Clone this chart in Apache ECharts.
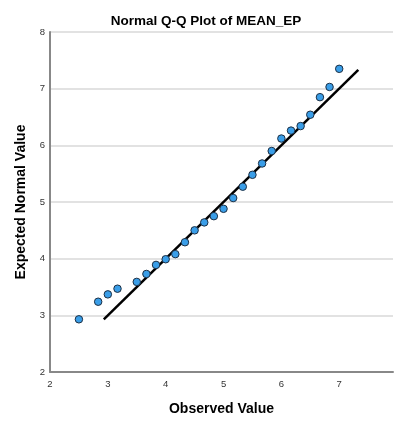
<!DOCTYPE html>
<html>
<head>
<meta charset="utf-8">
<script src="https://cdn.jsdelivr.net/npm/echarts@6/dist/echarts.min.js"></script>
<style>html,body{margin:0;padding:0;background:#fff}#c{width:394px;height:421px}</style>
</head>
<body>
<div id="c"></div>
<script>
var observed = [2.5, 2.833, 3.0, 3.167, 3.5, 3.667, 3.833, 4.0, 4.167, 4.333, 4.5, 4.667, 4.833, 5.0, 5.167, 5.333, 5.5, 5.667, 5.833, 6.0, 6.167, 6.333, 6.5, 6.667, 6.833, 7.0];
var expected = [2.93, 3.24, 3.37, 3.47, 3.59, 3.73, 3.89, 3.99, 4.08, 4.29, 4.50, 4.64, 4.75, 4.88, 5.07, 5.27, 5.48, 5.68, 5.90, 6.12, 6.26, 6.34, 6.54, 6.85, 7.03, 7.35];
var refLineX = [2.93, 7.33];
var refLineY = [2.93, 7.33];
var xTicks = [2, 3, 4, 5, 6, 7];
var yTicks = [2, 3, 4, 5, 6, 7, 8];

var pts = observed.map(function (v, i) { return [v, expected[i]]; });
var linePts = refLineX.map(function (v, i) { return [v, refLineY[i]]; });

var chart = echarts.init(document.getElementById('c'));
chart.setOption({
  animation: false,
  backgroundColor: '#fff',
  title: {
    text: 'Normal Q-Q Plot of MEAN_EP',
    left: 201, top: 9, textAlign: 'center',
    textStyle: {fontFamily: 'Liberation Sans, Arial', fontSize: 13.5, fontWeight: 'bold', color: '#000'}
  },
  grid: {left: 50, top: 32, right: 1, bottom: 42},
  xAxis: {
    type: 'value', min: 2, max: 7.93, interval: 1,
    name: 'Observed Value', nameLocation: 'middle', nameGap: 30,
    nameTextStyle: {fontFamily: 'Liberation Sans, Arial', fontSize: 14, fontWeight: 'bold', color: '#000'},
    axisLine: {show: true, lineStyle: {color: '#888', width: 2}},
    axisTick: {show: false},
    splitLine: {show: false},
    axisLabel: {fontFamily: 'Liberation Sans, Arial', fontSize: 9.5, color: '#333', margin: 7, showMaxLabel: false,
      formatter: function (v) { return xTicks.indexOf(v) >= 0 ? String(v) : ''; }}
  },
  yAxis: {
    type: 'value', min: 2, max: 8, interval: 1,
    name: 'Expected Normal Value', nameLocation: 'middle', nameGap: 22,
    nameTextStyle: {fontFamily: 'Liberation Sans, Arial', fontSize: 14, fontWeight: 'bold', color: '#000'},
    axisLine: {show: true, lineStyle: {color: '#888', width: 2}},
    axisTick: {show: false},
    splitLine: {show: true, lineStyle: {color: '#d9d9d9', width: 1.5}},
    axisLabel: {fontFamily: 'Liberation Sans, Arial', fontSize: 9.5, color: '#333', margin: 5,
      formatter: function (v) { return yTicks.indexOf(v) >= 0 ? String(v) : ''; }}
  },
  series: [
    {
      type: 'line', data: linePts, symbol: 'none', silent: true,
      lineStyle: {color: '#000', width: 2.5}, z: 2
    },
    {
      type: 'scatter', data: pts, symbol: 'circle', symbolSize: 7.5,
      itemStyle: {color: '#3a9ee8', borderColor: '#1c2f44', borderWidth: 1, opacity: 1}, z: 3
    }
  ]
});
</script>
</body>
</html>
